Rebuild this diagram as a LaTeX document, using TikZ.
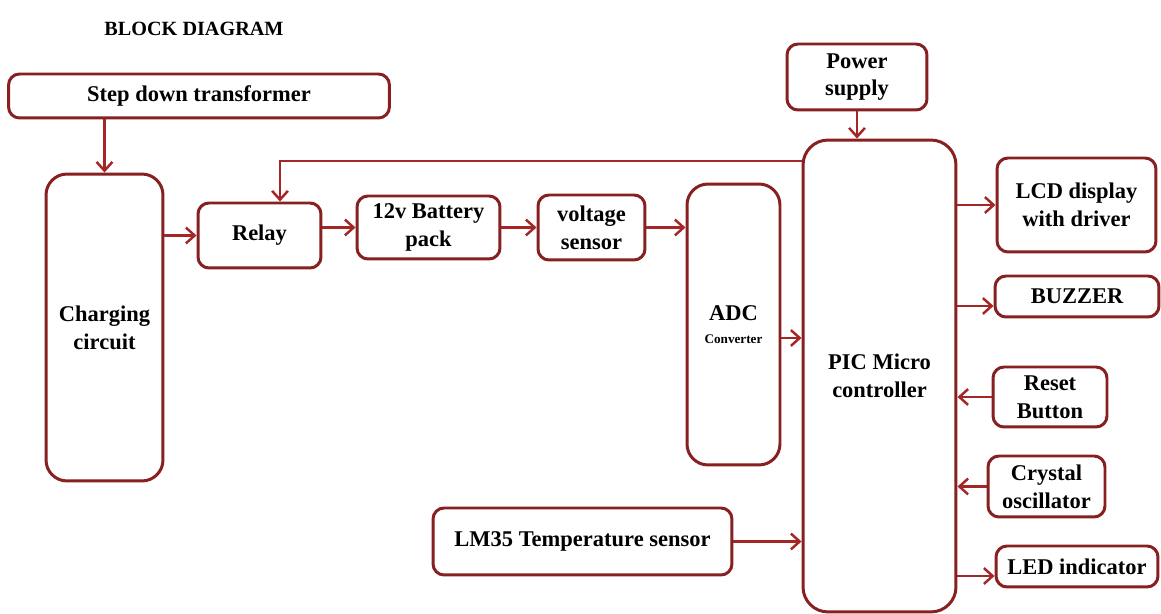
\documentclass[tikz,border=0pt]{standalone}
\usepackage{fontspec}
\setmainfont{Liberation Serif}
\usetikzlibrary{arrows.meta,positioning,calc}
\definecolor{boxred}{RGB}{135,32,32}
\definecolor{wirered}{RGB}{165,38,38}

\begin{document}
\begin{tikzpicture}[
    x=0.02cm, y=-0.02cm,
    blk/.style={draw=boxred, line width=1.7pt, rounded corners=0.22cm, fill=white, align=center,
      inner sep=1pt, font=\fontsize{12.8}{15.8}\selectfont\bfseries},
    tallblk/.style={blk, rounded corners=0.42cm},
    wire/.style={draw=wirered, line width=1.5pt, -{Straight Barb[length=5pt,width=9pt,line width=1.4pt]}}
  ]
  \useasboundingbox (0,0) rectangle (1161,614);

  \node[font=\fontsize{11.5}{13}\selectfont\bfseries] (title) at (194,29) {BLOCK DIAGRAM};

  % supply side
  \node[blk, minimum width=7.62cm, minimum height=0.88cm] (trans) at (199,96) {Step down transformer};
  \node[tallblk, minimum width=2.34cm, minimum height=6.14cm] (charge) at (104.5,327.5) {Charging\\circuit};
  \node[blk, minimum width=2.46cm, minimum height=1.3cm] (relay) at (259.5,235.5) {Relay};
  \node[blk, minimum width=2.86cm, minimum height=1.26cm] (batt) at (428.5,227.5) {12v Battery\\pack};
  \node[blk, minimum width=2.14cm, minimum height=1.3cm] (volt) at (591.5,227.5) {voltage\\sensor};
  \node[tallblk, minimum width=1.86cm, minimum height=5.62cm] (adc) at (733.5,324.5)
    {ADC\\[-3pt]{\fontsize{7.5}{9}\selectfont Converter}};
  \node[blk, minimum width=5.98cm, minimum height=1.34cm] (lm35) at (582.5,541.5) {LM35 Temperature sensor};

  % controller and peripherals
  \node[blk, rounded corners=0.5cm, minimum width=3.06cm, minimum height=9.44cm] (pic) at (879.5,376) {PIC Micro\\controller};
  \node[blk, minimum width=2.8cm, minimum height=1.32cm] (power) at (857,77) {Power\\supply};
  \node[blk, minimum width=3.18cm, minimum height=1.88cm] (lcd) at (1076.5,205) {LCD display\\with driver};
  \node[blk, minimum width=3.28cm, minimum height=0.82cm] (buzz) at (1077,296.5) {BUZZER};
  \node[blk, minimum width=2.28cm, minimum height=1.2cm] (reset) at (1050,397) {Reset\\Button};
  \node[blk, minimum width=2.34cm, minimum height=1.22cm] (xtal) at (1046.5,486.5) {Crystal\\oscillator};
  \node[blk, minimum width=3.24cm, minimum height=0.82cm] (led) at (1077,566.5) {LED indicator};

  \coordinate (fb) at (280,161);

  \draw[wire] (charge.north |- trans.south) -- (charge.north);
  \draw[wire] (charge.east |- relay.west) -- (relay.west);
  \draw[wire] (pic.west |- fb) -- (fb) -- (fb |- relay.north);
  \draw[wire] (relay.east |- batt.west) -- (batt.west);
  \draw[wire] (batt.east) -- (volt.west);
  \draw[wire] (volt.east) -- (volt.east -| adc.west);
  \draw[wire] (adc.east |- 0,338) -- (pic.west |- 0,338);
  \draw[wire] (lm35.east) -- (lm35.east -| pic.west);
  \draw[wire] (power.south) -- (power.south |- pic.north);

  \draw[wire] (pic.east |- lcd.west) -- (lcd.west);
  \draw[wire] (pic.east |- 0,306) -- (buzz.west |- 0,306);
  \draw[wire] (reset.west) -- (reset.west -| pic.east);
  \draw[wire] (xtal.west) -- (xtal.west -| pic.east);
  \draw[wire] (pic.east |- 0,576) -- (led.west |- 0,576);
\end{tikzpicture}
\end{document}
